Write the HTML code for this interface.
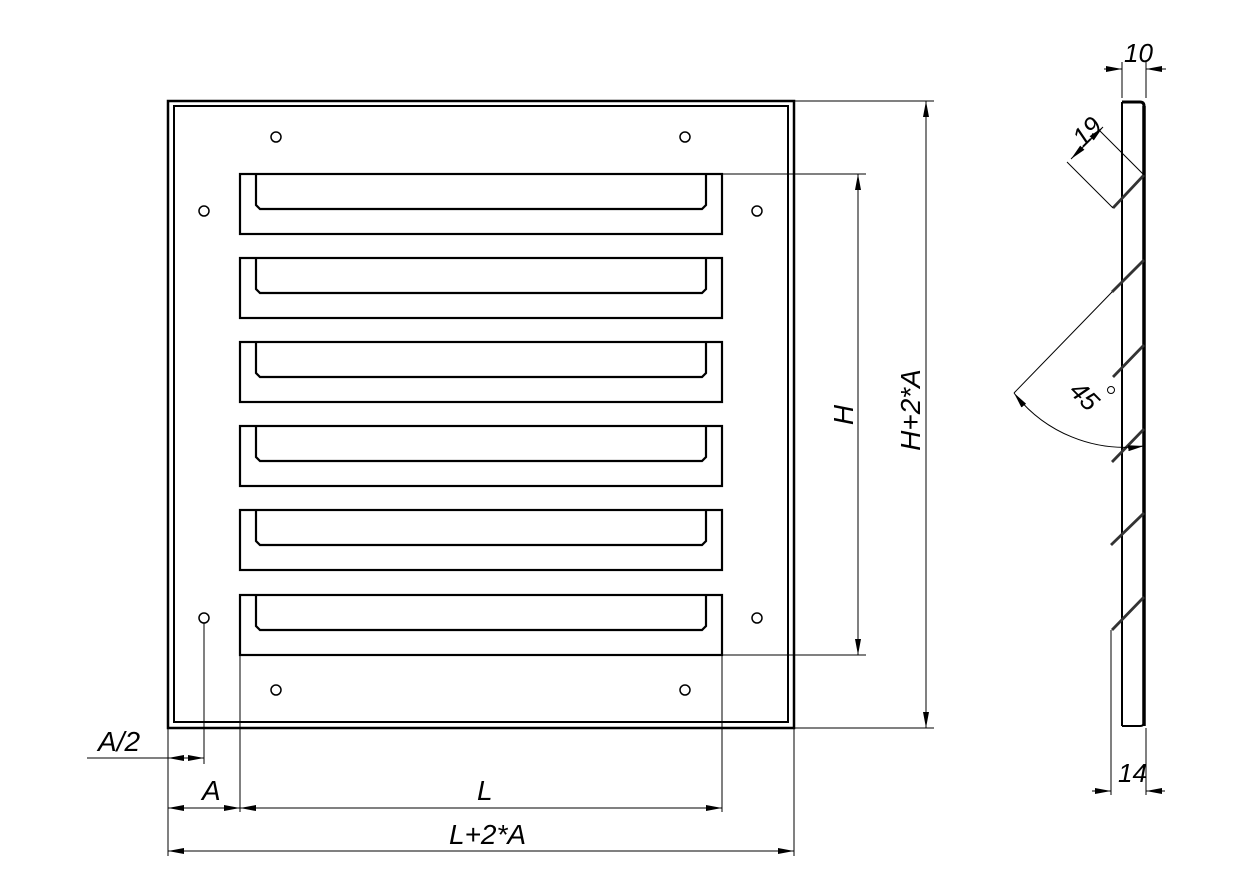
<!DOCTYPE html>
<html><head><meta charset="utf-8"><style>
html,body{margin:0;padding:0;background:#fff;}
svg{display:block}
text{font-family:"Liberation Sans",sans-serif;font-style:italic;fill:#000;}
</style></head><body>
<svg width="1256" height="888" viewBox="0 0 1256 888" xmlns="http://www.w3.org/2000/svg">
<defs>
<marker id="ar" viewBox="0 0 16 6" refX="16" refY="3" markerWidth="16" markerHeight="6" markerUnits="userSpaceOnUse" orient="auto-start-reverse"><path d="M0,0 L16,3 L0,6 z" fill="#000"/></marker>
<g id="slot">
<rect x="240" y="0" width="482" height="60" fill="none" stroke="#000" stroke-width="2.2"/>
<path d="M256,1 V31 L260,35 H702 L706,31 V1" fill="none" stroke="#000" stroke-width="2.2"/>
</g>
</defs>
<g fill="none" stroke="#000">
<rect x="168" y="101" width="626" height="627" stroke-width="2.5"/>
<rect x="174" y="106" width="614" height="616" stroke-width="2"/>
<g stroke-width="1.5">
<circle cx="276" cy="137" r="5"/><circle cx="685" cy="137" r="5"/>
<circle cx="204" cy="211" r="5"/><circle cx="757" cy="211" r="5"/>
<circle cx="204" cy="618" r="5"/><circle cx="757" cy="618" r="5"/>
<circle cx="276" cy="690" r="5"/><circle cx="685" cy="690" r="5"/>
</g>
</g>
<use href="#slot" y="174"/><use href="#slot" y="258"/><use href="#slot" y="342"/>
<use href="#slot" y="426"/><use href="#slot" y="510"/><use href="#slot" y="595"/>
<g stroke="#000" stroke-width="1" fill="none">
<line x1="722" y1="174" x2="866" y2="174"/><line x1="722" y1="655" x2="866" y2="655"/>
<line x1="858" y1="174" x2="858" y2="655" marker-start="url(#ar)" marker-end="url(#ar)"/>
<line x1="794" y1="101" x2="934" y2="101"/><line x1="794" y1="728" x2="934" y2="728"/>
<line x1="926" y1="101" x2="926" y2="728" marker-start="url(#ar)" marker-end="url(#ar)"/>
<line x1="168" y1="728" x2="168" y2="856"/><line x1="794" y1="728" x2="794" y2="856"/>
<line x1="204" y1="623" x2="204" y2="764"/>
<line x1="240" y1="655" x2="240" y2="812"/><line x1="722" y1="655" x2="722" y2="812"/>
<line x1="87" y1="758" x2="168" y2="758"/>
<line x1="168" y1="758" x2="204" y2="758" marker-start="url(#ar)" marker-end="url(#ar)"/>
<line x1="168" y1="808" x2="240" y2="808" marker-start="url(#ar)" marker-end="url(#ar)"/>
<line x1="240" y1="808" x2="722" y2="808" marker-start="url(#ar)" marker-end="url(#ar)"/>
<line x1="168" y1="851" x2="794" y2="851" marker-start="url(#ar)" marker-end="url(#ar)"/>
</g>
<text x="98" y="751" font-size="28">A/2</text>
<text x="202" y="800" font-size="28">A</text>
<text x="477" y="800" font-size="28">L</text>
<text x="449" y="844" font-size="28">L+2*A</text>
<text transform="translate(853,415) rotate(-90)" font-size="28" text-anchor="middle">H</text>
<text transform="translate(920,410) rotate(-90)" font-size="28" text-anchor="middle">H+2*A</text>
<!-- side view -->
<g fill="none" stroke="#000">
<line x1="1122" y1="102" x2="1122" y2="726" stroke-width="2"/>
<line x1="1144" y1="106" x2="1144" y2="726" stroke-width="3.5"/>
<path d="M1122,102 H1140 Q1144,102 1144,106" stroke-width="3"/>
<path d="M1122,726 H1140 Q1144,726 1144,722" stroke-width="2"/>
<g stroke-width="2.8" stroke="#333">
<line x1="1144" y1="175" x2="1113" y2="208"/>
<line x1="1144" y1="260" x2="1112" y2="292"/>
<line x1="1144" y1="345" x2="1113" y2="377"/>
<line x1="1144" y1="429" x2="1112" y2="462"/>
<line x1="1144" y1="513" x2="1111" y2="545"/>
<line x1="1144" y1="597" x2="1112" y2="630"/>
</g>
<g stroke-width="1">
<line x1="1122" y1="98" x2="1122" y2="62"/><line x1="1146" y1="98" x2="1146" y2="62"/>
<line x1="1104" y1="69" x2="1122" y2="69" marker-end="url(#ar)"/>
<line x1="1166" y1="69" x2="1146" y2="69" marker-end="url(#ar)"/>
<line x1="1144" y1="175" x2="1099" y2="130"/><line x1="1113" y1="208" x2="1067" y2="162"/>
<line x1="1071" y1="159" x2="1103" y2="127" marker-start="url(#ar)" marker-end="url(#ar)"/>
<line x1="1112" y1="292" x2="1014" y2="393"/>
<path d="M1014,393 A140,140 0 0 0 1144,446" marker-start="url(#ar)" marker-end="url(#ar)"/>
<line x1="1111" y1="630" x2="1111" y2="795"/><line x1="1146" y1="728" x2="1146" y2="795"/>
<line x1="1092" y1="791" x2="1111" y2="791" marker-end="url(#ar)"/>
<line x1="1165" y1="791" x2="1146" y2="791" marker-end="url(#ar)"/>
</g>
<circle cx="1111" cy="390" r="3.5" stroke-width="1"/>
</g>
<text x="1124" y="62" font-size="26">10</text>
<text transform="translate(1083,148) rotate(-45)" font-size="26">19</text>
<text transform="translate(1068,392) rotate(45)" font-size="26">45</text>
<text x="1118" y="782" font-size="26">14</text>
</svg>
</body></html>
